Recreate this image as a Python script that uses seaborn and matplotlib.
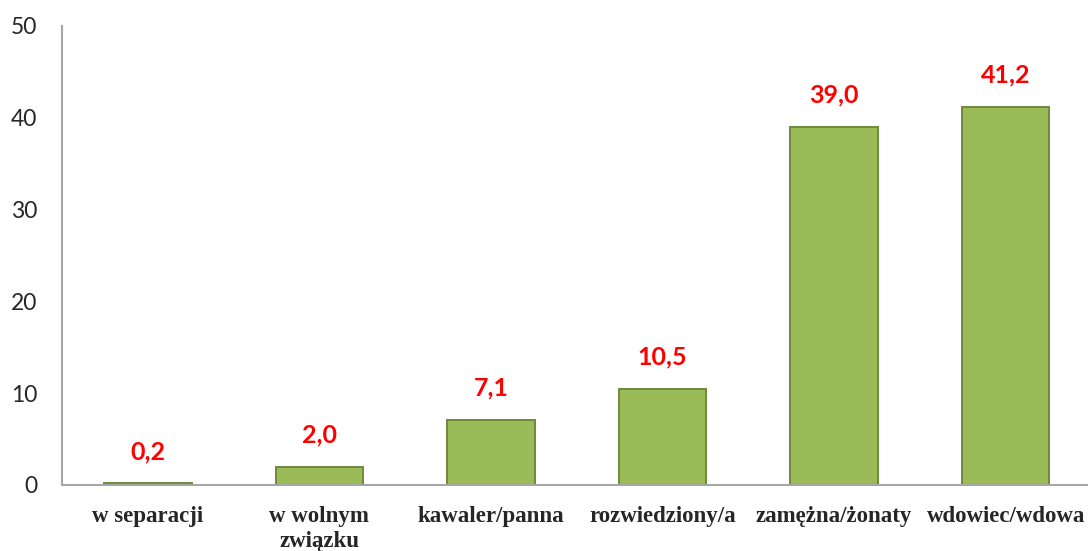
import matplotlib
matplotlib.use("Agg")
import matplotlib.pyplot as plt
import seaborn as sns
import pandas as pd

categories = ["w separacji", "w wolnym\nzwiązku", "kawaler/panna", "rozwiedziony/a", "zamężna/żonaty", "wdowiec/wdowa"]
values = [0.2, 2.0, 7.1, 10.5, 39.0, 41.2]
value_labels = ["0,2", "2,0", "7,1", "10,5", "39,0", "41,2"]
y_ticks = [0, 10, 20, 30, 40, 50]

sns.set_theme(style="white")
plt.rcParams['font.family'] = ['Lato', 'DejaVu Sans']

df = pd.DataFrame({"cat": categories, "val": values})

fig = plt.figure(figsize=(10.88, 5.51), dpi=100)
ax = fig.add_axes([0.057, 0.1198, 0.943, 0.8332])

sns.barplot(data=df, x="cat", y="val", ax=ax, color="#9BBB59", width=0.51,
            edgecolor="#6E8A3A", linewidth=1.4, saturation=1)

for p, lab in zip(ax.patches, value_labels):
    ax.text(p.get_x() + p.get_width() / 2, p.get_height() + 2.2, lab,
            ha="center", va="bottom", color="#FF0000", fontsize=18, fontweight="bold",
            family=["Lato", "DejaVu Sans"])

ax.set_ylim(0, 50)
ax.set_xlim(-0.5, 5.48)
ax.set_yticks(y_ticks)
ax.set_yticklabels([str(t) for t in y_ticks], fontsize=16.5)
ax.set_xticks(range(len(categories)))
ax.set_xticklabels(categories, fontsize=16.5, fontweight="bold", family=["Liberation Serif"],
                   linespacing=1.25)
ax.tick_params(axis="x", length=0, pad=15)
ax.tick_params(axis="y", length=0, pad=18)
ax.set_xlabel("")
ax.set_ylabel("")

for s in ["top", "right"]:
    ax.spines[s].set_visible(False)
for s in ["left", "bottom"]:
    ax.spines[s].set_color("#A6A6A6")
    ax.spines[s].set_linewidth(1.5)

fig.savefig("out.png", dpi=100)
